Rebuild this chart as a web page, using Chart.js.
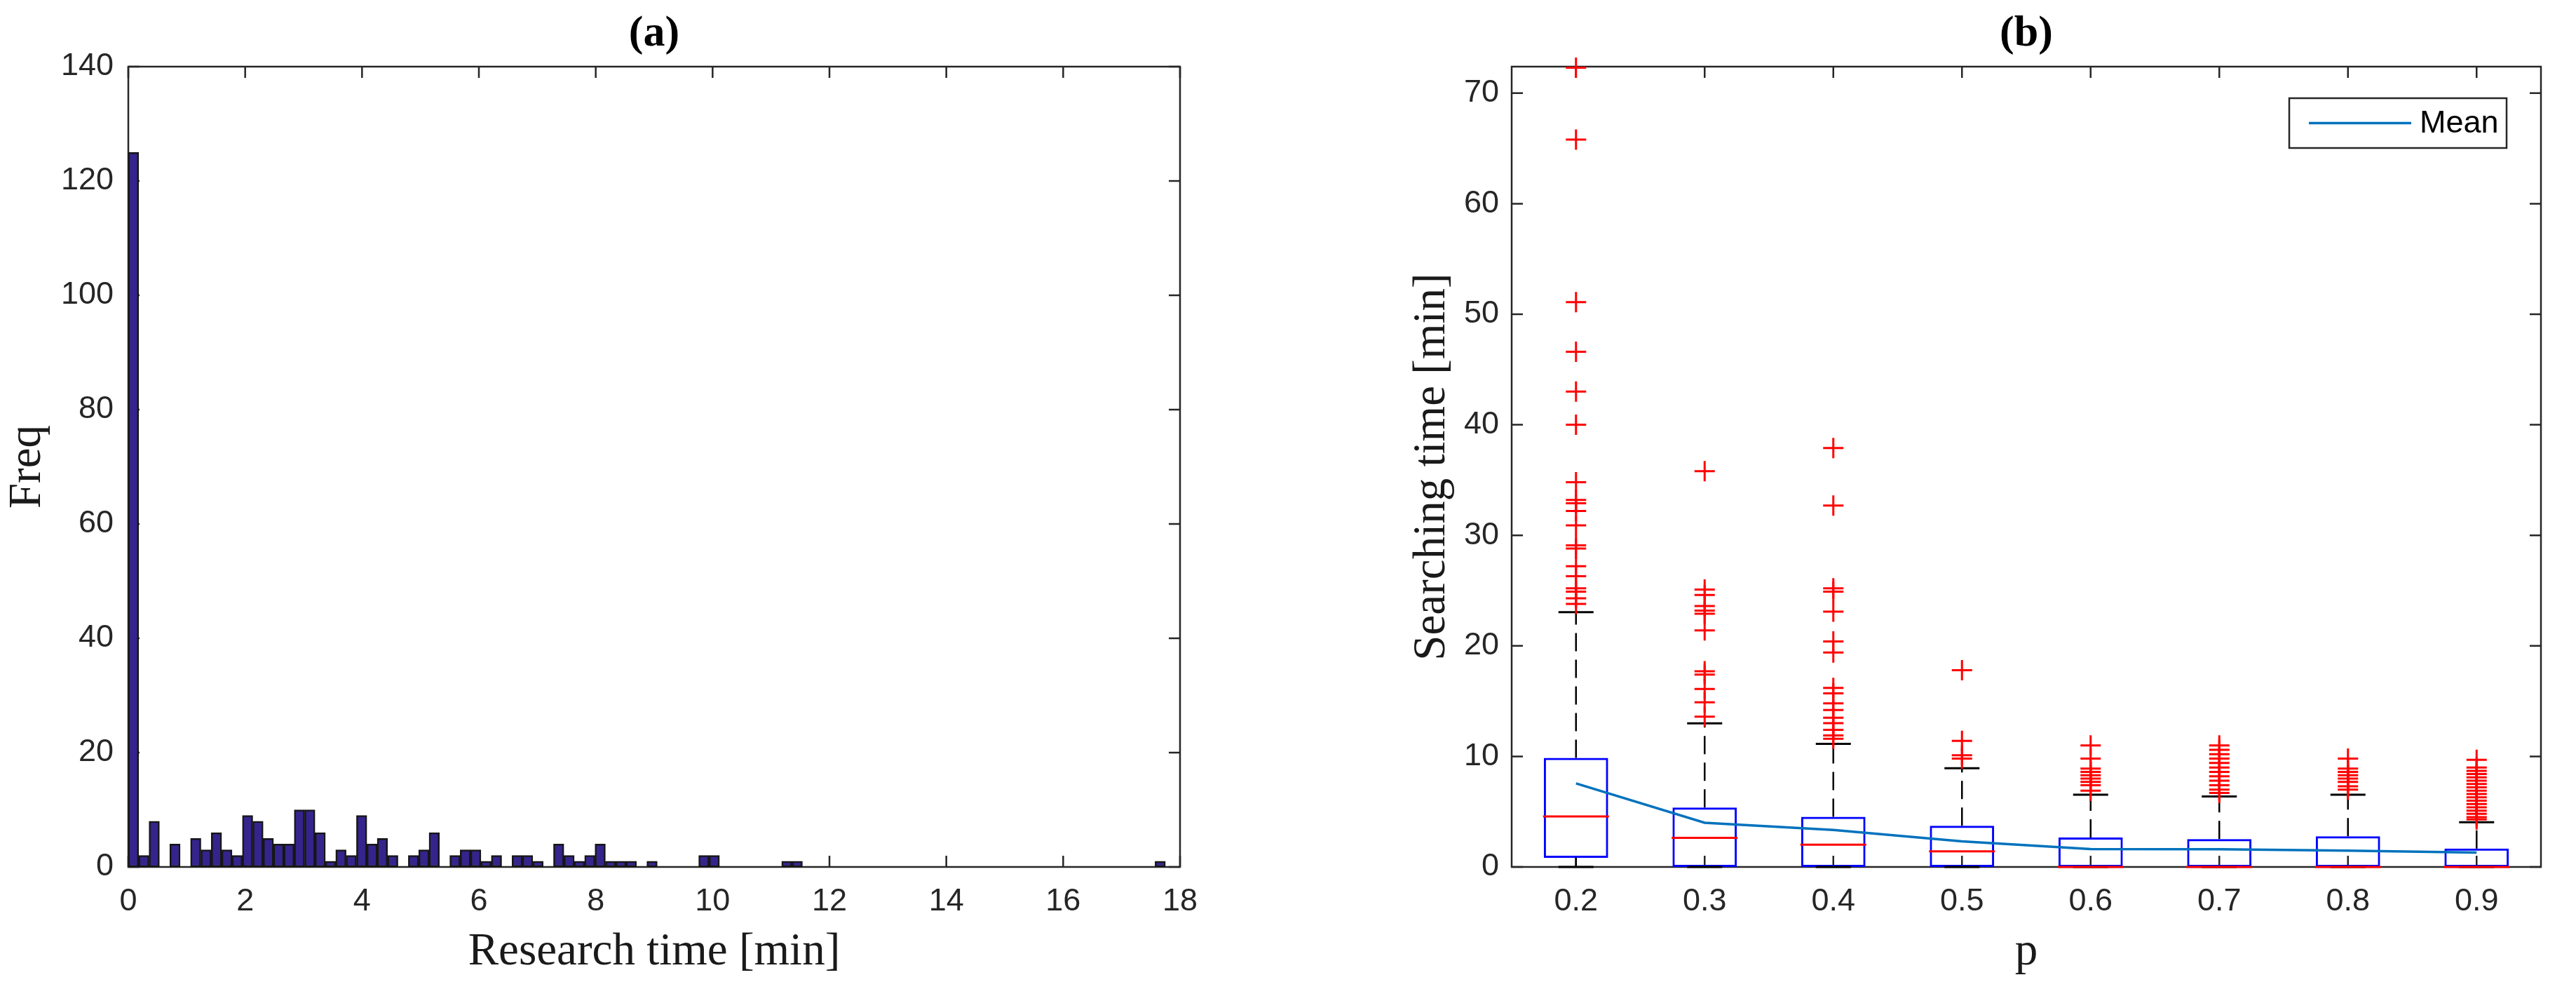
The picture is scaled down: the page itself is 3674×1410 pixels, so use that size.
<!DOCTYPE html>
<html>
<head>
<meta charset="utf-8">
<title>Research time histogram and searching time box plots</title>
<script src="https://cdn.jsdelivr.net/npm/chart.js@4.4.1/dist/chart.umd.min.js"></script>
<style>
    html, body { margin: 0; padding: 0; background: #fff; }
    #wrap { position: relative; width: 3674px; height: 1410px; overflow: hidden; }
    canvas { position: absolute; top: 0; }
    #histChart { left: 0; }
    #boxChart { left: 1870px; }
</style>
</head>
<body>
<div id="wrap">
    <canvas id="histChart" width="1800" height="1410"></canvas>
    <canvas id="boxChart" width="1804" height="1410"></canvas>
</div>
<script>
// (a) histogram of research time, 100 equal bins from 0 to ~17.75 min
const histBinWidth = 0.1775;
const histCounts = [
    125, 2, 8, 0, 4, 0, 5, 3, 6, 3,
    2, 9, 8, 5, 4, 4, 10, 10, 6, 1,
    3, 2, 9, 4, 5, 2, 0, 2, 3, 6,
    0, 2, 3, 3, 1, 2, 0, 2, 2, 1,
    0, 4, 2, 1, 2, 4, 1, 1, 1, 0,
    1, 0, 0, 0, 0, 2, 2, 0, 0, 0,
    0, 0, 0, 1, 1, 0, 0, 0, 0, 0,
    0, 0, 0, 0, 0, 0, 0, 0, 0, 0,
    0, 0, 0, 0, 0, 0, 0, 0, 0, 0,
    0, 0, 0, 0, 0, 0, 0, 0, 0, 1
];
const histXTicks = [0, 2, 4, 6, 8, 10, 12, 14, 16, 18];
const histYTicks = [0, 20, 40, 60, 80, 100, 120, 140];

// (b) searching time box plots per p
const pValues = [0.2, 0.3, 0.4, 0.5, 0.6, 0.7, 0.8, 0.9];
const boxQ1 = [0.82, 0, 0, 0, 0, 0, 0, 0];
const boxMedian = [4.57, 2.63, 2.02, 1.41, 0, 0, 0, 0];
const boxQ3 = [9.87, 5.37, 4.53, 3.73, 2.67, 2.53, 2.78, 1.66];
const whiskerLow = [0, 0, 0, 0, 0, 0, 0, 0];
const whiskerHigh = [23.05, 12.99, 11.14, 8.93, 6.53, 6.37, 6.53, 4.04];
const meanTime = [7.56, 4.0, 3.35, 2.32, 1.62, 1.6, 1.47, 1.3];
const outliers = [
    [72.3, 65.8, 51.1, 46.6, 43.0, 40.0, 34.8, 33.2, 32.9, 32.2, 30.9, 29.1, 28.8, 27.2, 26.3, 25.2, 24.9, 24.3, 23.8],
    [35.8, 25.1, 24.6, 23.6, 23.2, 22.9, 21.4, 17.7, 17.4, 16.1, 14.9, 13.6],
    [37.9, 32.7, 25.2, 24.9, 23.1, 20.4, 19.4, 16.2, 15.7, 14.8, 14.2, 13.5, 13.0, 12.4, 11.9, 11.6],
    [17.8, 11.4, 10.1, 9.8],
    [11.0, 9.8, 8.9, 8.6, 8.3, 8.0, 7.7, 7.4, 6.9],
    [11.0, 10.6, 10.2, 9.8, 9.4, 9.0, 8.6, 8.2, 7.8, 7.4, 7.0, 6.7],
    [9.8, 8.9, 8.6, 8.3, 8.0, 7.7, 7.3, 7.0],
    [9.7, 9.0, 8.7, 8.4, 8.1, 7.8, 7.5, 7.2, 6.9, 6.6, 6.3, 6.0, 5.7, 5.4, 5.1, 4.8, 4.5, 4.3]
];
const boxYTicks = [0, 10, 20, 30, 40, 50, 60, 70];

const SANS = "'Liberation Sans', Arial, sans-serif";
const SERIF = "'Liberation Serif', 'Times New Roman', serif";
const INK = '#262626';
const TICK_LEN = 16;

Chart.defaults.font.family = SANS;
Chart.defaults.color = INK;

// matlab style box: frame on all sides, ticks pointing inwards on every edge
const framePlugin = {
    id: 'frame',
    beforeDatasetsDraw(chart) {
        const { ctx, chartArea: a, scales: { x, y } } = chart;
        ctx.save();
        ctx.strokeStyle = INK;
        ctx.lineWidth = 2.5;
        ctx.strokeRect(a.left, a.top, a.right - a.left, a.bottom - a.top);
        ctx.beginPath();
        x.ticks.forEach(t => {
            const px = x.getPixelForValue(t.value);
            ctx.moveTo(px, a.bottom); ctx.lineTo(px, a.bottom - TICK_LEN);
            ctx.moveTo(px, a.top); ctx.lineTo(px, a.top + TICK_LEN);
        });
        y.ticks.forEach(t => {
            const py = y.getPixelForValue(t.value);
            ctx.moveTo(a.left, py); ctx.lineTo(a.left + TICK_LEN, py);
            ctx.moveTo(a.right, py); ctx.lineTo(a.right - TICK_LEN, py);
        });
        ctx.stroke();
        ctx.restore();
    }
};

// legend box in the top right corner of the plot area
const meanLegendPlugin = {
    id: 'meanLegend',
    afterDatasetsDraw(chart) {
        const ds = chart.data.datasets.find(d => d.label === 'Mean');
        if (!ds) return;
        const { ctx, chartArea: a } = chart;
        const w = 310, h = 71;
        const left = a.right - 49 - w, top = a.top + 45, mid = top + h / 2;
        ctx.save();
        ctx.fillStyle = '#fff';
        ctx.fillRect(left, top, w, h);
        ctx.strokeStyle = INK;
        ctx.lineWidth = 2.5;
        ctx.strokeRect(left, top, w, h);
        ctx.beginPath();
        ctx.moveTo(left + 28, mid);
        ctx.lineTo(left + 174, mid);
        ctx.strokeStyle = ds.borderColor;
        ctx.lineWidth = ds.borderWidth;
        ctx.stroke();
        ctx.fillStyle = '#000';
        ctx.font = '45px ' + SANS;
        ctx.textBaseline = 'middle';
        ctx.fillText(ds.label, left + 186, mid + 1);
        ctx.restore();
    }
};

const tickFont = { size: 45, family: SANS };
const labelFont = { size: 65, family: SERIF };
const titleFont = { size: 62, family: SERIF, weight: 'bold' };

function panelTitle(text) {
    return { display: true, text, fullSize: false, color: '#000', font: titleFont, padding: { top: 12, bottom: 8.6 } };
}

const histCtx = document.getElementById('histChart');
new Chart(histCtx, {
    type: 'bar',
    data: {
        datasets: [{
            data: histCounts.map((c, i) => ({ x: (i + 0.5) * histBinWidth, y: c })),
            backgroundColor: '#34248C', borderColor: '#161616', borderWidth: 2.5,
            borderSkipped: false, barPercentage: 1, categoryPercentage: 1
        }]
    },
    options: {
        responsive: false, animation: false, events: [],
        layout: { padding: { right: 117 } },
        plugins: { legend: { display: false }, tooltip: { enabled: false }, title: panelTitle('(a)') },
        scales: {
            x: {
                type: 'linear', min: 0, max: 18, offset: false,
                afterBuildTicks: s => { s.ticks = histXTicks.map(v => ({ value: v })); },
                afterFit: s => { s.height = 174; },
                grid: { display: false, drawTicks: false }, border: { display: false },
                ticks: { font: tickFont, color: INK, padding: 23, maxRotation: 0, callback: v => String(v) },
                title: { display: true, text: 'Research time [min]', font: labelFont, color: '#1a1a1a', padding: { top: 0, bottom: 13 } }
            },
            y: {
                min: 0, max: 140,
                afterBuildTicks: s => { s.ticks = histYTicks.map(v => ({ value: v })); },
                afterFit: s => { s.width = 183; },
                grid: { display: false, drawTicks: false }, border: { display: false },
                ticks: { font: tickFont, color: INK, padding: 21, callback: v => String(v) },
                title: { display: true, text: 'Freq', font: labelFont, color: '#1a1a1a', padding: { top: 1, bottom: 0 } }
            }
        }
    },
    plugins: [framePlugin]
});

const whiskerPoints = [];
pValues.forEach((p, i) => {
    whiskerPoints.push({ x: p, y: boxQ3[i] }, { x: p, y: whiskerHigh[i] }, { x: p, y: null });
    whiskerPoints.push({ x: p, y: boxQ1[i] }, { x: p, y: whiskerLow[i] }, { x: p, y: null });
});

const boxCtx = document.getElementById('boxChart');
new Chart(boxCtx, {
    type: 'bar',
    data: {
        datasets: [
            { type: 'line', label: 'Mean', data: pValues.map((p, i) => ({ x: p, y: meanTime[i] })), borderColor: '#0072BD', borderWidth: 3.5, pointRadius: 0, tension: 0, clip: false },
            { type: 'line', label: 'Outliers', showLine: false, data: outliers.flatMap((vals, i) => vals.map(v => ({ x: pValues[i], y: v }))), pointStyle: 'cross', pointRadius: 14.5, pointBorderColor: '#FF0000', pointBorderWidth: 3, clip: false },
            { type: 'line', label: 'Median', showLine: false, data: pValues.map((p, i) => ({ x: p, y: boxMedian[i] })), pointStyle: 'line', pointRadius: 47, pointBorderColor: '#FF0000', pointBorderWidth: 3, clip: false },
            { type: 'line', label: 'Whisker caps', showLine: false, data: pValues.flatMap((p, i) => [{ x: p, y: whiskerHigh[i] }, { x: p, y: whiskerLow[i] }]), pointStyle: 'line', pointRadius: 25, pointBorderColor: '#000', pointBorderWidth: 3, clip: false },
            { type: 'line', label: 'Whiskers', data: whiskerPoints, borderColor: '#000', borderWidth: 2.5, borderDash: [26, 12], pointRadius: 0, spanGaps: false, clip: false },
            { label: 'Boxes', data: pValues.map((p, i) => ({ x: p, y: [boxQ1[i], boxQ3[i]] })), backgroundColor: 'rgba(0,0,0,0)', borderColor: '#0000FF', borderWidth: 3, borderSkipped: false, barPercentage: 0.5, categoryPercentage: 1, clip: false }
        ]
    },
    options: {
        responsive: false, animation: false, events: [],
        layout: { padding: { right: 17 } },
        plugins: { legend: { display: false }, tooltip: { enabled: false }, title: panelTitle('(b)') },
        scales: {
            x: {
                type: 'linear', min: 0.15, max: 0.95, offset: false,
                afterBuildTicks: s => { s.ticks = pValues.map(v => ({ value: v })); },
                afterFit: s => { s.height = 174; },
                grid: { display: false, drawTicks: false }, border: { display: false },
                ticks: { font: tickFont, color: INK, padding: 23, maxRotation: 0, callback: v => v.toFixed(1) },
                title: { display: true, text: 'p', font: labelFont, color: '#1a1a1a', padding: { top: 0, bottom: 13 } }
            },
            y: {
                min: 0, max: 72.4,
                afterBuildTicks: s => { s.ticks = boxYTicks.map(v => ({ value: v })); },
                afterFit: s => { s.width = 286; },
                grid: { display: false, drawTicks: false }, border: { display: false },
                ticks: { font: tickFont, color: INK, padding: 18, callback: v => String(v) },
                title: { display: true, text: 'Searching time [min]', font: labelFont, color: '#1a1a1a', padding: { top: 134, bottom: 0 } }
            }
        }
    },
    plugins: [framePlugin, meanLegendPlugin]
});
</script>
</body>
</html>
